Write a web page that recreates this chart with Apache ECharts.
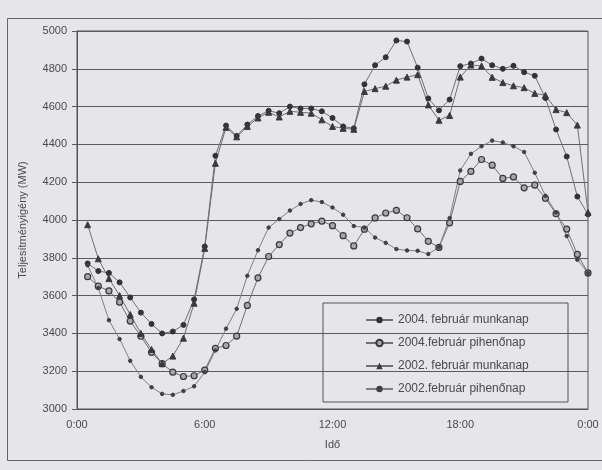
<!DOCTYPE html>
<html>
<head>
<meta charset="utf-8">
<script src="https://cdn.jsdelivr.net/npm/echarts@6/dist/echarts.min.js"></script>
<style>
html,body{margin:0;padding:0;background:#e6e6ea;}
#chart{width:602px;height:470px;}
</style>
</head>
<body>
<div id="chart"></div>
<script>
// time of day in hours (half-hourly readings)
var times = [0.5,1,1.5,2,2.5,3,3.5,4,4.5,5,5.5,6,
             6.5,7,7.5,8,8.5,9,9.5,10,10.5,11,11.5,12,
             12.5,13,13.5,14,14.5,15,15.5,16,16.5,17,17.5,18,
             18.5,19,19.5,20,20.5,21,21.5,22,22.5,23,23.5,24];

var munkanap2004 = [3770,3730,3720,3670,3590,3510,3450,3400,3410,3445,3580,3860,
                    4340,4500,4445,4505,4550,4578,4565,4600,4590,4590,4575,4540,
                    4495,4485,4718,4819,4861,4950,4944,4806,4643,4580,4637,4814,
                    4828,4854,4819,4800,4816,4782,4763,4645,4479,4336,4124,4030];

var pihenonap2004 = [3700,3650,3625,3565,3465,3385,3300,3240,3195,3172,3176,3206,
                     3321,3336,3386,3548,3694,3807,3870,3931,3960,3980,3994,3970,
                     3917,3863,3951,4011,4037,4051,4012,3953,3887,3855,3985,4204,
                     4257,4320,4290,4220,4228,4170,4185,4115,4033,3952,3818,3720];

var munkanap2002 = [3975,3795,3690,3600,3500,3400,3315,3240,3280,3375,3560,3850,
                    4300,4490,4440,4495,4540,4570,4545,4575,4570,4565,4530,4495,
                    4485,4480,4680,4695,4708,4740,4756,4769,4609,4528,4553,4756,
                    4820,4815,4755,4727,4710,4700,4670,4660,4584,4568,4502,4040];

var pihenonap2002 = [3760,3640,3470,3370,3255,3170,3115,3080,3075,3095,3120,3195,
                     3310,3425,3530,3705,3840,3960,4005,4050,4085,4105,4095,4066,
                     4028,3968,3960,3907,3879,3846,3839,3837,3820,3856,4010,4262,
                     4350,4390,4420,4410,4390,4360,4250,4128,4040,3915,3790,3720];

var seriesNames = ['2004. február munkanap','2004.február pihenőnap','2002. február munkanap','2002.február pihenőnap'];
var xTickLabels = ['0:00','6:00','12:00','18:00','0:00'];
var yTitle = 'Teljesítményigény (MW)';
var xTitle = 'Idő';

function pairs(vals){ return times.map(function(t,i){ return [t, vals[i]]; }); }

var FONT = 'Liberation Sans, Arial, sans-serif';
var TXT = '#4a4a4a';
var GRID = '#5e5860';

var chart = echarts.init(document.getElementById('chart'), null, {renderer:'canvas'});
chart.setOption({
  backgroundColor: '#e6e6ea',
  animation: false,
  grid: {left: 77, right: 14, top: 31, bottom: 61, show: true, borderColor: '#5a4f58', borderWidth: 1, backgroundColor: 'transparent'},
  xAxis: {
    type: 'value', min: 0, max: 24, interval: 6,
    name: xTitle, nameLocation: 'middle', nameGap: 30,
    nameTextStyle: {fontFamily: FONT, fontSize: 11, color: TXT},
    axisLine: {show: true, lineStyle: {color: '#5a4f58'}},
    axisTick: {show: false},
    splitLine: {show: false},
    axisLabel: {fontFamily: FONT, fontSize: 11, color: TXT, margin: 10,
      formatter: function(v){ return xTickLabels[Math.round(v/6)]; }}
  },
  yAxis: {
    type: 'value', min: 3000, max: 5000, interval: 200,
    name: yTitle, nameLocation: 'middle', nameGap: 49, nameRotate: 90,
    nameTextStyle: {fontFamily: FONT, fontSize: 11, color: TXT},
    axisLine: {show: true, lineStyle: {color: '#5a4f58'}},
    axisTick: {show: true, length: 5, lineStyle: {color: GRID}},
    splitLine: {show: true, lineStyle: {color: GRID, width: 1}},
    axisLabel: {fontFamily: FONT, fontSize: 11, color: TXT, margin: 10,
      formatter: function(v){ return String(v); }}
  },
  legend: {
    orient: 'vertical', left: 360, top: 309,
    itemWidth: 27, itemHeight: 8, itemGap: 11,
    textStyle: {fontFamily: FONT, fontSize: 12, color: TXT},
    data: seriesNames
  },
  graphic: [
    {type: 'rect', silent: true, z: 100,
     shape: {x: 323, y: 303, width: 245, height: 99},
     style: {fill: 'none', stroke: '#5a4f58', lineWidth: 1}},
    {type: 'rect', silent: true, z: 100,
     shape: {x: 7.5, y: 18.5, width: 620, height: 442},
     style: {fill: 'none', stroke: '#6a6068', lineWidth: 1}}
  ],
  series: [
    {name: seriesNames[0], type: 'line', data: pairs(munkanap2004),
     symbol: 'circle', symbolSize: 5,
     lineStyle: {color: '#707070', width: 1},
     itemStyle: {color: '#333333', borderColor: '#333333'}},
    {name: seriesNames[1], type: 'line', data: pairs(pihenonap2004),
     symbol: 'circle', symbolSize: 6,
     lineStyle: {color: '#707070', width: 1},
     itemStyle: {color: '#a8a8a8', borderColor: '#3a3a3a', borderWidth: 1.2}},
    {name: seriesNames[2], type: 'line', data: pairs(munkanap2002),
     symbol: 'triangle', symbolSize: 6,
     lineStyle: {color: '#707070', width: 1},
     itemStyle: {color: '#3a3a3a', borderColor: '#3a3a3a'}},
    {name: seriesNames[3], type: 'line', data: pairs(pihenonap2002),
     symbol: 'circle', symbolSize: 3.5,
     lineStyle: {color: '#808080', width: 1},
     itemStyle: {color: '#404040', borderColor: '#404040'}}
  ]
});
</script>
</body>
</html>
